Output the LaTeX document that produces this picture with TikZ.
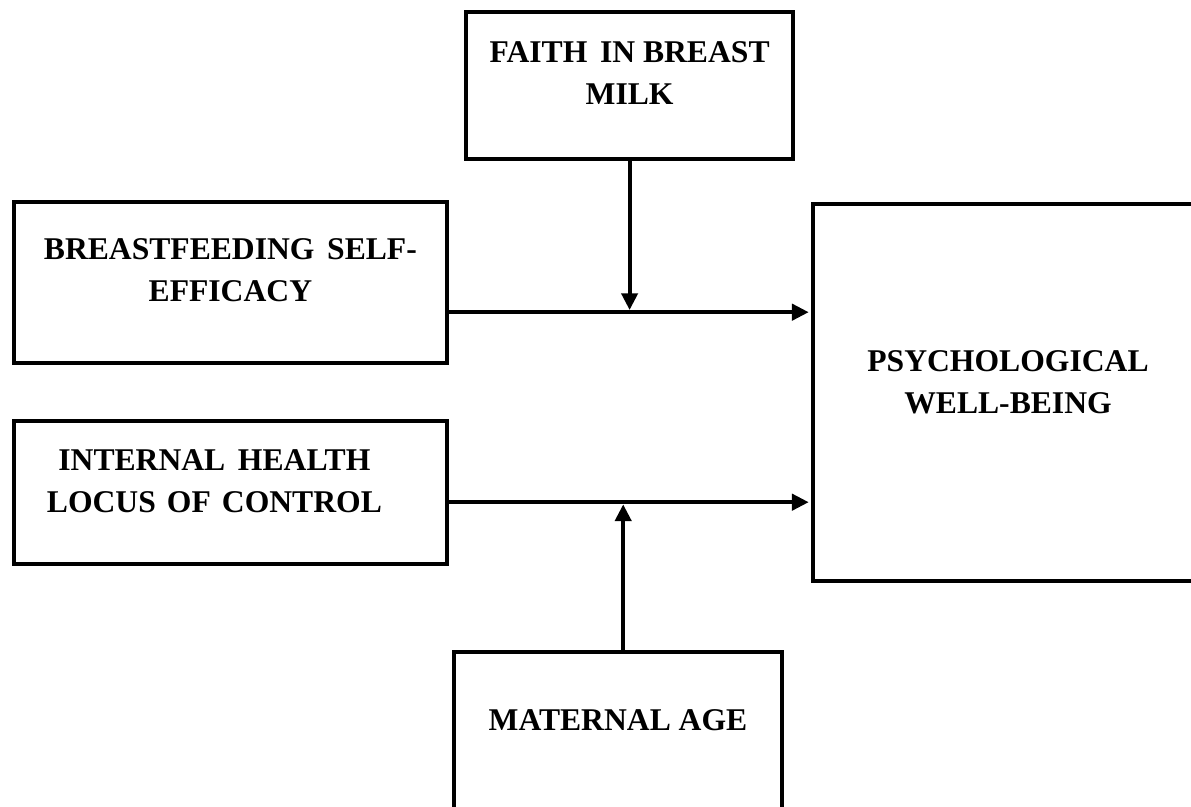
\documentclass[tikz,border=0pt]{standalone}
\usepackage{fontspec}
\setmainfont{Liberation Serif}
\usetikzlibrary{arrows.meta,calc,positioning}

\tikzset{
  box/.style={draw, line width=3pt, inner sep=0pt},
  lbl/.style={font=\fontsize{22.5}{30}\selectfont\bfseries, align=center},
  arr/.style={line width=2.9pt, shorten >=1.5pt, -{Triangle[length=0.42cm,width=0.4cm]}}
}

\begin{document}
\begin{tikzpicture}
% page frame
\clip (0,0) rectangle (29.775,20.175);
\fill[white] (0,0) rectangle (29.775,20.175);
% boxes
\node[box, minimum width=8.175cm, minimum height=3.675cm] (faith) at (15.74,18.04) {};
\node[box, minimum width=10.825cm, minimum height=4.025cm] (bse) at (5.76,13.11) {};
\node[box, minimum width=10.825cm, minimum height=3.575cm] (ihlc) at (5.76,7.86) {};
\node[box, minimum width=9.75cm, minimum height=9.425cm] (pwb) at (25.2,10.36) {};
\node[box, minimum width=8.2cm, minimum height=4cm] (mage) at (15.45,1.875) {};
% labels
\node[lbl] (faithtxt) at ([yshift=0.3cm]faith) {FAITH\hspace{0.15em} IN BREAST\\MILK};
\node[lbl] (bsetxt) at ([yshift=0.31cm]bse) {BREASTFEEDING\hspace{0.15em} SELF-\\EFFICACY};
\node[lbl] (ihlctxt) at ([xshift=-0.4cm,yshift=0.29cm]ihlc) {INTERNAL\hspace{0.15em} HEALTH\\LOCUS\hspace{0.1em} OF\hspace{0.1em} CONTROL};
\node[lbl] (pwbtxt) at ([yshift=0.25cm]pwb) {PSYCHOLOGICAL\\WELL-BEING};
\node[lbl] (magetxt) at ([yshift=0.3cm]mage) {MATERNAL AGE};
% paths
\coordinate (bout) at ([yshift=-0.74cm]bse.east);
\coordinate (iout) at ([yshift=-0.24cm]ihlc.east);
\coordinate (mtop) at ([xshift=0.13cm]mage.north);
\draw[arr] (bout) -- (bout -| pwb.west);
\draw[arr] (iout) -- (iout -| pwb.west);
\draw[arr] (faith.south) -- (faith.south |- bout);
\draw[arr] (mtop) -- (mtop |- iout);
\end{tikzpicture}
\end{document}
